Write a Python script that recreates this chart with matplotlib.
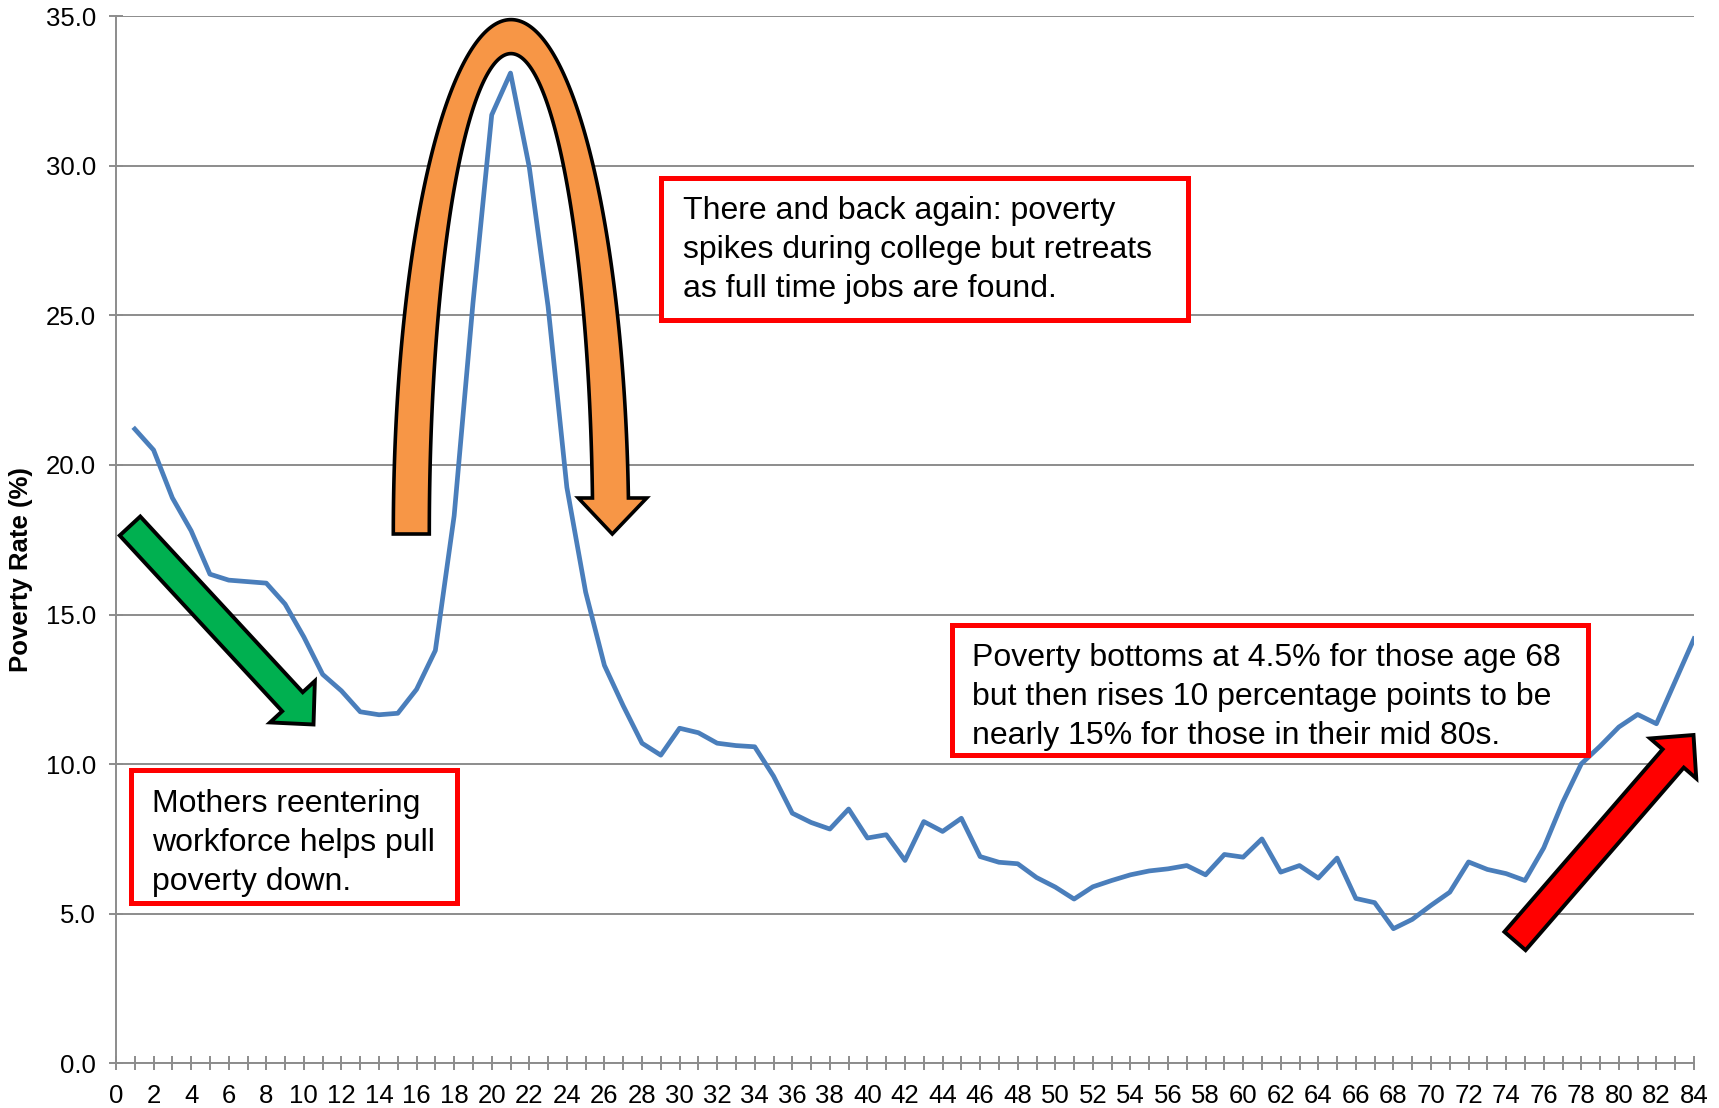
import numpy as np
import matplotlib
matplotlib.use('Agg')
import matplotlib.pyplot as plt
from matplotlib.patches import Polygon, Rectangle
from matplotlib.ticker import MultipleLocator, FormatStrFormatter

plt.rcParams['font.family'] = ['Liberation Sans', 'DejaVu Sans']

# poverty rate by single year of age
ages = list(range(1, 85))
rates = [21.2, 20.5, 18.9, 17.8, 16.35, 16.15, 16.1, 16.05, 15.35, 14.25,
         13.0, 12.45, 11.75, 11.65, 11.7, 12.5, 13.8, 18.3, 25.4, 31.7,
         33.1, 29.95, 25.3, 19.25, 15.75, 13.3, 11.95, 10.7, 10.3, 11.2,
         11.05, 10.7, 10.62, 10.58, 9.6, 8.36, 8.05, 7.83, 8.5, 7.53,
         7.64, 6.78, 8.08, 7.75, 8.19, 6.91, 6.72, 6.67, 6.21, 5.89,
         5.49, 5.9, 6.11, 6.3, 6.43, 6.5, 6.61, 6.3, 6.98, 6.89,
         7.5, 6.39, 6.61, 6.19, 6.86, 5.51, 5.37, 4.5, 4.81, 5.28,
         5.72, 6.73, 6.48, 6.34, 6.11, 7.2, 8.71, 10.01, 10.6, 11.24,
         11.66, 11.35, 12.77, 14.19]

note_college = ('There and back again: poverty\n'
                'spikes during college but retreats\n'
                'as full time jobs are found.')
note_old = ('Poverty bottoms at 4.5% for those age 68\n'
            'but then rises 10 percentage points to be\n'
            'nearly 15% for those in their mid 80s.')
note_mothers = 'Mothers reentering\nworkforce helps pull\npoverty down.'

W, H = 1719, 1108
GRID = '#8C8C8C'

fig = plt.figure(figsize=(W / 100, H / 100), dpi=100)
ax = fig.add_axes([116 / W, 1 - 1063.3 / H, 1578 / W, 1047.1 / H])

ax.plot(ages, rates, color='#4A7EBB', lw=3.4, solid_joinstyle='round', zorder=3)

ax.set_xlim(0, 84)
ax.set_ylim(0, 35)
ax.xaxis.set_major_locator(MultipleLocator(2))
ax.xaxis.set_minor_locator(MultipleLocator(1))
ax.yaxis.set_major_locator(MultipleLocator(5))
ax.yaxis.set_major_formatter(FormatStrFormatter('%.1f'))
ax.grid(axis='y', color=GRID, lw=1.4)
ax.set_axisbelow(True)
for s in ['top', 'right']:
    ax.spines[s].set_visible(False)
for s in ['left', 'bottom']:
    ax.spines[s].set_color(GRID)
    ax.spines[s].set_linewidth(1.4)
ax.tick_params(axis='both', which='both', direction='inout', length=10.5,
               width=1.4, color=GRID, labelsize=18.5)
ax.tick_params(axis='x', pad=10)
ax.tick_params(axis='y', pad=9)
ax.set_ylabel('Poverty Rate (%)', fontsize=18.5, fontweight='bold')
ax.yaxis.set_label_coords(-0.0525, 0.472)

# annotation layer in pixel coordinates
ov = fig.add_axes([0, 0, 1, 1], zorder=5)
ov.set_xlim(0, W)
ov.set_ylim(H, 0)
ov.axis('off')
ov.patch.set_alpha(0)


def block_arrow(tail, tip, color, shaft_w=28, head_w=61, head_len=31):
    tail = np.array(tail, float)
    tip = np.array(tip, float)
    d = tip - tail
    u = d / np.hypot(*d)
    n = np.array([-u[1], u[0]])
    base = tip - u * head_len
    pts = [tail + n * shaft_w / 2, base + n * shaft_w / 2, base + n * head_w / 2,
           tip, base - n * head_w / 2, base - n * shaft_w / 2, tail - n * shaft_w / 2]
    ov.add_patch(Polygon(pts, closed=True, fc=color, ec='black', lw=2.8,
                         joinstyle='miter'))


block_arrow((130, 526), (313.5, 724.5), '#00B050')
block_arrow((1515, 941), (1693.5, 735), '#FF0000')

# curved orange arrow over the college spike
cx, cy = 511, 534
a_o, b_o = 117.7, 514.4
a_i, b_i = 81.7, 480.4
y_end = 498
t_o = np.linspace(np.pi, np.arcsin((cy - y_end) / b_o), 200)
t_i = np.linspace(np.arcsin((cy - y_end) / b_i), np.pi, 200)
outer = np.column_stack([cx + a_o * np.cos(t_o), cy - b_o * np.sin(t_o)])
inner = np.column_stack([cx + a_i * np.cos(t_i), cy - b_i * np.sin(t_i)])
head = np.array([[646.7, y_end], [612.3, 534], [578.3, y_end]])
arch = np.vstack([outer, head, inner])
ov.add_patch(Polygon(arch, closed=True, fc='#F79646', ec='black', lw=2.6,
                     joinstyle='miter'))


def note(x0, y0, x1, y1, tx, ty, text):
    ov.add_patch(Rectangle((x0, y0), x1 - x0, y1 - y0, fc='white',
                           ec='#FF0000', lw=3.6))
    ov.text(tx, ty, text, fontsize=23, ha='left', va='center',
            linespacing=1.38, color='black')


note(661, 178, 1187.5, 320, 683, 250, note_college)
note(951.5, 625, 1588, 755, 972, 697, note_old)
note(130.5, 770, 457, 903, 152, 843, note_mothers)

fig.savefig('out.png', dpi=100)
